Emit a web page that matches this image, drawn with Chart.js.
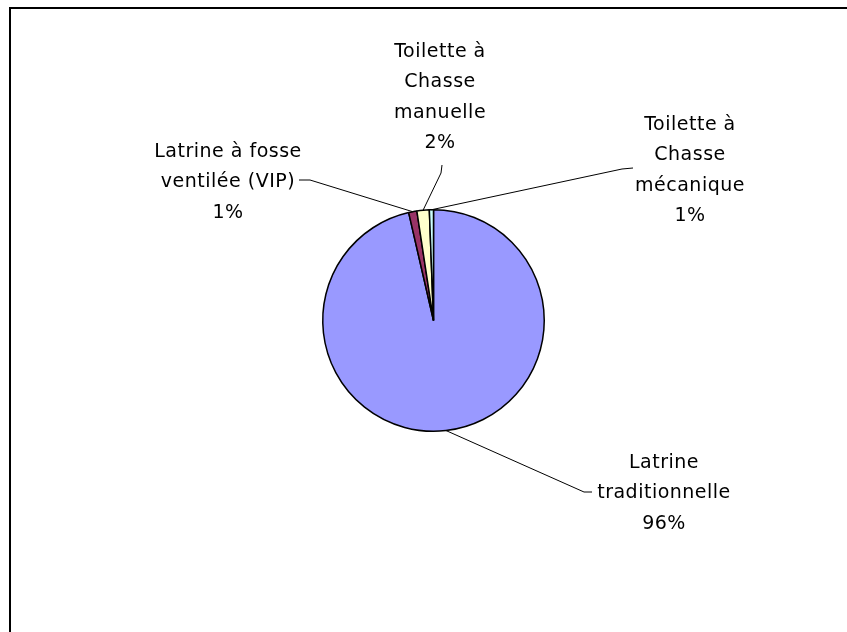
<!DOCTYPE html>
<html>
<head>
<meta charset="utf-8">
<script src="https://cdn.jsdelivr.net/npm/chart.js@4/dist/chart.umd.min.js"></script>
<style>
    html, body { margin: 0; padding: 0; background: #fff; overflow: hidden; }
    #frame {
        position: absolute; left: 9px; top: 7px; width: 900px; height: 700px;
        border-left: 2px solid #000; border-top: 2px solid #000;
    }
    #chart { position: absolute; left: 0; top: 0; }
</style>
</head>
<body>
<div id="frame"></div>
<canvas id="chart" width="847" height="632"></canvas>
<script>
const categories = [
    "Latrine traditionnelle",
    "Latrine à fosse ventilée (VIP)",
    "Toilette à Chasse manuelle",
    "Toilette à Chasse mécanique",
];
const shares = [96.4, 1.2, 1.8, 0.6];
const sliceColors = ["#9999ff", "#993366", "#ffffcc", "#ccffff"];

// how each category label is broken over lines
const labelLines = [
    ["Latrine", "traditionnelle"],
    ["Latrine à fosse", "ventilée (VIP)"],
    ["Toilette à", "Chasse", "manuelle"],
    ["Toilette à", "Chasse", "mécanique"],
];

// label block centre, first line y, and the leader path after the slice edge
const labelLayout = [
    { x: 664, y: 463, leader: [[584, 492], [592, 492]] },
    { x: 228, y: 152, leader: [[310, 180], [299, 180]] },
    { x: 440, y: 52, leader: [[441, 173], [442, 165]] },
    { x: 690, y: 125, leader: [[622, 169], [633, 168]] },
];

const lineGap = 30.5;

function percentText(i) {
    const total = shares.reduce((a, b) => a + b, 0);
    return Math.round((shares[i] / total) * 100) + "%";
}

const pieLabels = {
    id: "pieLabels",
    afterDraw(chart) {
        const ctx = chart.ctx;
        const arcs = chart.getDatasetMeta(0).data;
        ctx.save();
        ctx.strokeStyle = "#000";
        ctx.lineWidth = 1;
        arcs.forEach((arc, i) => {
            const p = arc.getProps(["x", "y", "startAngle", "endAngle", "outerRadius"], true);
            const mid = (p.startAngle + p.endAngle) / 2;
            const ax = p.x + Math.cos(mid) * p.outerRadius;
            const ay = p.y + Math.sin(mid) * p.outerRadius;
            const lay = labelLayout[i];
            ctx.beginPath();
            ctx.moveTo(ax, ay);
            lay.leader.forEach(([x, y]) => ctx.lineTo(x, y));
            ctx.stroke();

            ctx.fillStyle = "#000";
            ctx.font = "19px 'DejaVu Sans'";
            ctx.letterSpacing = "0.5px";
            ctx.textAlign = "center";
            ctx.textBaseline = "middle";
            const lines = labelLines[i].concat([percentText(i)]);
            lines.forEach((t, k) => ctx.fillText(t, lay.x, lay.y + k * lineGap));
        });
        ctx.restore();
    },
};

new Chart(document.getElementById("chart"), {
    type: "pie",
    data: {
        labels: categories,
        datasets: [{
            data: shares,
            backgroundColor: sliceColors,
            borderColor: "#000",
            borderWidth: 1.5,
        }],
    },
    options: {
        responsive: false,
        animation: false,
        layout: { padding: { left: 322, right: 302, top: 209, bottom: 200 } },
        plugins: { legend: { display: false }, tooltip: { enabled: false } },
    },
    plugins: [pieLabels],
});
</script>
</body>
</html>
